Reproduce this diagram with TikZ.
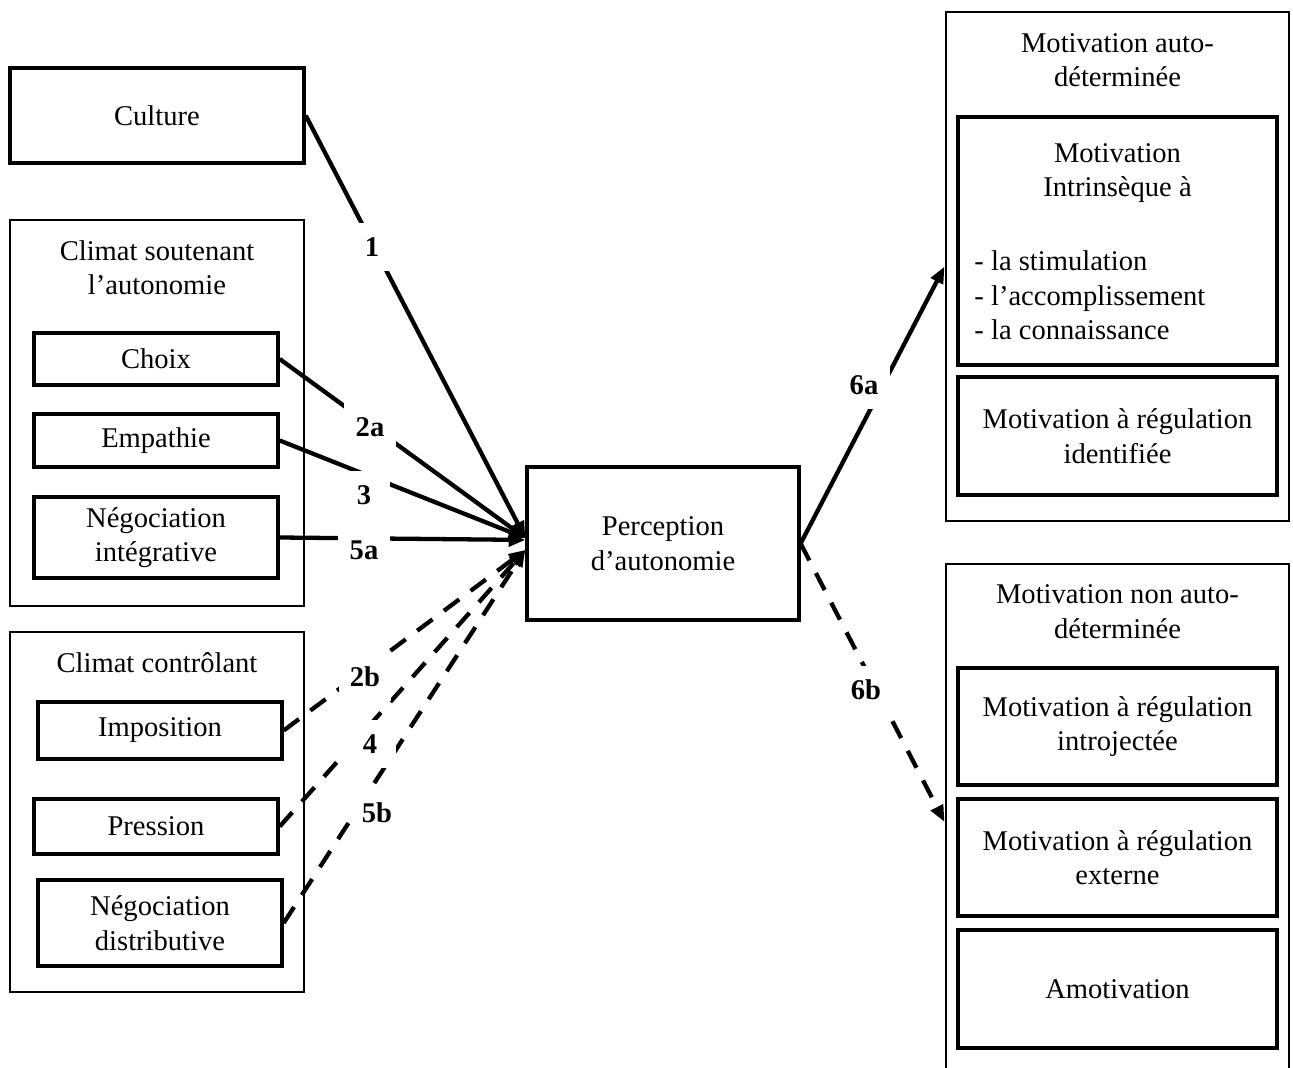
\documentclass[tikz,border=0pt]{standalone}
\usepackage{fontspec}
\setmainfont{Liberation Serif}
\usetikzlibrary{arrows.meta,positioning}
\newcommand{\txt}{\fontsize{12pt}{14.5pt}\selectfont}

\begin{document}
\begin{tikzpicture}[x=0.42pt,y=-0.42pt,
    box/.style={draw,line width=1.4pt,align=center,font=\txt,inner sep=0pt,minimum width=102.5pt},
    bigbox/.style={box,minimum width=134pt},
    grp/.style={draw,line width=1.2pt,inner sep=0pt},
    ttl/.style={align=center,font=\txt},
    lnk/.style={line width=1.8pt,-{Triangle[length=7pt,width=5.5pt]}},
    lnkd/.style={lnk,dash pattern=on 8pt off 6pt},
    num/.style={fill=white,font=\txt\bfseries,minimum width=22pt,minimum height=20pt}]
    \useasboundingbox (0,0) rectangle (1293,1068);

    % left column
    \node[box,minimum width=123.5pt,minimum height=39.9pt] (culture) at (157,115.5) {Culture};
    \node[grp,minimum width=123.5pt,minimum height=162.1pt] (soutien) at (157,413) {};
    \node[ttl] (soutienT) at (157,267.5) {Climat soutenant\\l’autonomie};
    \node[box,minimum height=21.8pt] (choix) at (156,359) {Choix};
    \node[box,minimum height=22.3pt] (empathie) at (156,440.5) {Empathie};
    \node[box,minimum height=34pt] (negoint) at (156,537.5) {Négociation\\intégrative};
    \node[grp,minimum width=123.5pt,minimum height=151.2pt] (controle) at (157,812) {};
    \node[ttl] (controleT) at (157,663) {Climat contrôlant};
    \node[box,minimum height=23.9pt] (imposition) at (160,730.5) {Imposition};
    \node[box,minimum height=23.1pt] (pression) at (156,826.5) {Pression};
    \node[box,minimum height=36.1pt] (negodist) at (160,923) {Négociation\\distributive};

    % centre
    \node[box,minimum width=114.2pt,minimum height=64.3pt] (percep) at (663,543.5) {Perception\\d’autonomie};

    % right column
    \node[grp,minimum width=144.1pt,minimum height=213.8pt] (motauto) at (1117.5,266.5) {};
    \node[ttl] (motautoT) at (1117.5,60) {Motivation auto-\\déterminée};
    \node[bigbox,minimum height=104.2pt] (intr) at (1117.5,241) {};
    \node[ttl] (intrT) at (1117.5,173) {Motivation\\Intrinsèque à};
    \node[ttl,align=left,anchor=west] (intrL) at (966,295.5) {- la stimulation\\- l’accomplissement\\- la connaissance};
    \node[bigbox,minimum height=49.6pt] (ident) at (1117.5,436) {Motivation à régulation\\identifiée};
    \node[grp,minimum width=144.1pt,minimum height=216.7pt] (motnon) at (1117.5,822) {};
    \node[ttl] (motnonT) at (1117.5,611.5) {Motivation non auto-\\déterminée};
    \node[bigbox,minimum height=49.1pt] (introj) at (1117.5,726.5) {Motivation à régulation\\introjectée};
    \node[bigbox,minimum height=49.1pt] (externe) at (1117.5,857.5) {Motivation à régulation\\externe};
    \node[bigbox,minimum height=49.6pt] (amotiv) at (1117.5,989) {Amotivation};

    % links
    \draw[lnk] (culture.east) -- ([yshift=2.3pt]percep.west);
    \draw[lnk] (choix.east) -- ([yshift=2.3pt]percep.west);
    \draw[lnk] (empathie.east) -- ([yshift=2.3pt]percep.west);
    \draw[lnk] (negoint.east) -- ([yshift=1.5pt]percep.west);
    \draw[lnkd] (imposition.east) -- ([yshift=-2.7pt]percep.west);
    \draw[lnkd] (pression.east) -- ([yshift=-2.7pt]percep.west);
    \draw[lnkd] (negodist.east) -- ([yshift=-2.7pt]percep.west);
    \draw[lnk] (percep.east) -- (motauto.west);
    \draw[lnkd] (percep.east) -- (motnon.west);

    % path numbers
    \node[num] (n1) at (372,247) {1};
    \node[num] (n2a) at (370,427) {2a};
    \node[num] (n3) at (364,495) {3};
    \node[num] (n5a) at (364,550) {5a};
    \node[num] (n2b) at (365,677) {2b};
    \node[num] (n4) at (370,744) {4};
    \node[num] (n5b) at (377,813) {5b};
    \node[num] (n6a) at (864,385) {6a};
    \node[num] (n6b) at (866,690) {6b};
\end{tikzpicture}
\end{document}
